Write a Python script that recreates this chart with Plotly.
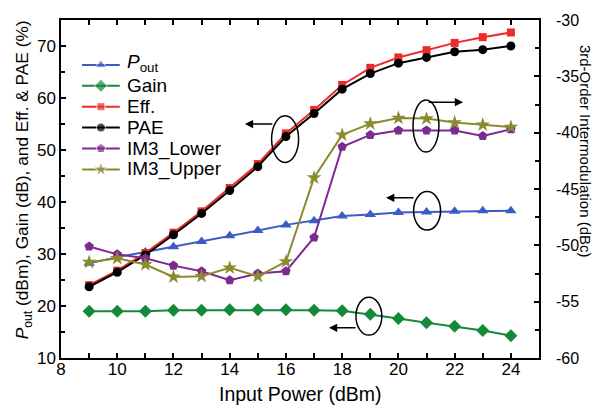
import plotly.graph_objects as go

# Input drive levels (dBm)
pin = [9, 10, 11, 12, 13, 14, 15, 16, 17, 18, 19, 20, 21, 22, 23, 24]

# Left-axis quantities
pout = [28.2, 29.4, 30.4, 31.4, 32.4, 33.5, 34.5, 35.6, 36.4, 37.3, 37.6, 38.0, 38.1, 38.2, 38.3, 38.3]
gain = [19.0, 19.0, 19.0, 19.2, 19.2, 19.3, 19.3, 19.3, 19.2, 19.1, 18.4, 17.6, 16.8, 16.1, 15.3, 14.3]
eff = [24.0, 26.8, 30.2, 34.1, 38.2, 42.7, 47.3, 53.2, 57.7, 62.5, 65.8, 67.8, 69.2, 70.6, 71.7, 72.6]
pae = [23.7, 26.5, 29.8, 33.7, 37.8, 42.2, 46.8, 52.6, 57.0, 61.7, 64.7, 66.7, 67.8, 68.9, 69.3, 70.0]

# Right-axis quantities (dBc)
im3_lower = [-50.1, -50.8, -51.15, -51.8, -52.3, -53.1, -52.5, -52.3, -49.3, -41.25, -40.2, -39.8, -39.8, -39.8, -40.3, -39.7]
im3_upper = [-51.5, -51.15, -51.7, -52.8, -52.75, -52.0, -52.75, -51.45, -44.0, -40.2, -39.2, -38.7, -38.75, -39.1, -39.3, -39.5]

x_ticks = [8, 10, 12, 14, 16, 18, 20, 22, 24]
y1_ticks = [10, 20, 30, 40, 50, 60, 70]
y2_ticks = [-60, -55, -50, -45, -40, -35, -30]
y2_labels = ["-60", "-55", "-50", "-45", "-40", "-35", "-30"]

FONT = "Liberation Sans, Arial, sans-serif"

# name, values, colour, marker symbol, marker size, y axis
series = [
    ("<i>P</i><sub>out</sub>", pout, "#3A5CC6", "triangle-up", 10, "y"),
    ("Gain", gain, "#138A3A", "diamond", 10, "y"),
    ("Eff.", eff, "#EE2A2A", "square", 8, "y"),
    ("PAE", pae, "#000000", "circle", 9, "y"),
    ("IM3_Lower", im3_lower, "#7C2A90", "pentagon", 10, "y2"),
    ("IM3_Upper", im3_upper, "#8B8A2F", "star", 11, "y2"),
]

fig = go.Figure()

for name, vals, col, sym, sz, ax in series:
    fig.add_trace(go.Scatter(
        x=pin, y=vals, name=name, mode="lines+markers",
        line=dict(color=col, width=2),
        marker=dict(symbol=sym, size=sz, color=col),
        yaxis=ax, showlegend=False,
    ))

# Hand-built legend on a hidden unit overlay (tighter row spacing than the built-in one)
LEG_X0, LEG_X1, LEG_TX = 0.044, 0.123, 0.134
LEG_TOP, LEG_STEP = 0.867, 0.0618
for i, (name, vals, col, sym, sz, ax) in enumerate(series):
    ry = LEG_TOP - i * LEG_STEP
    fig.add_trace(go.Scatter(
        x=[LEG_X0, (LEG_X0 + LEG_X1) / 2, LEG_X1], y=[ry, ry, ry],
        mode="lines+markers", line=dict(color=col, width=2),
        marker=dict(symbol=sym, size=[0, sz, 0], color=col),
        xaxis="x2", yaxis="y3", showlegend=False, hoverinfo="skip",
    ))
    fig.add_annotation(text=name, xref="paper", yref="paper", x=LEG_TX, y=ry,
                       xanchor="left", yanchor="middle", showarrow=False,
                       yshift=2 if i == 0 else 0,
                       font=dict(family=FONT, size=19, color="black"))

# Ellipses grouping curves with their axes
ellipses = [
    (15.49, 16.45, 47.6, 56.6),
    (20.52, 21.44, 49.6, 59.6),
    (20.54, 21.50, 34.6, 42.0),
    (18.49, 19.41, 14.4, 21.7),
]
for x0, x1, y0, y1 in ellipses:
    fig.add_shape(type="circle", xref="x", yref="y", x0=x0, x1=x1, y0=y0, y1=y1,
                  line=dict(color="black", width=1.5))

# Arrows pointing to the relevant axis: (tail_x, head_x, y)
arrows = [
    (15.57, 14.54, 55.0),
    (21.02, 22.30, 59.2),
    (20.59, 19.56, 40.8),
    (18.53, 17.53, 15.8),
]
for tx, hx, yy in arrows:
    fig.add_annotation(x=hx, y=yy, ax=tx, ay=yy, xref="x", yref="y", axref="x", ayref="y",
                       text="", showarrow=True, arrowhead=2, arrowsize=1.1, arrowwidth=1.5,
                       arrowcolor="black")

# Axis titles
fig.add_annotation(text="Input Power (dBm)", xref="paper", yref="paper",
                   x=0.5, y=-0.107, xanchor="center", yanchor="middle", showarrow=False,
                   font=dict(family=FONT, size=19.5, color="black"))
fig.add_annotation(text="<i>P</i><sub>out</sub> (dBm), Gain (dB), and Eff. &amp; PAE (%)",
                   xref="paper", yref="paper", x=-0.105, y=0.527, showarrow=False,
                   textangle=-90, font=dict(family=FONT, size=17.3, color="black"))
fig.add_annotation(text="3rd-Order Intermodulation (dBc)", xref="paper", yref="paper",
                   x=1.118, y=0.61, showarrow=False, textangle=90,
                   font=dict(family=FONT, size=15, color="black"))

axis_common = dict(showline=True, linecolor="black", linewidth=1.5, ticks="inside",
                   tickcolor="black", tickwidth=1.5, ticklen=5, showgrid=False, zeroline=False,
                   automargin=False)
tick_font = dict(family=FONT, size=17, color="black")

fig.update_layout(
    width=597, height=405,
    margin=dict(l=61, r=58, t=20, b=47),
    paper_bgcolor="white", plot_bgcolor="white",
    font=dict(family=FONT, size=16, color="black"),
    showlegend=False,
    xaxis=dict(range=[8, 25], tickvals=x_ticks, mirror="allticks", tickfont=tick_font,
               ticklabelstandoff=-5,
               minor=dict(dtick=1, tick0=8, ticks="inside", ticklen=4, tickcolor="black", tickwidth=1.5),
               **axis_common),
    yaxis=dict(range=[10, 75], tickvals=y1_ticks, tickfont=tick_font,
               minor=dict(dtick=5, tick0=10, ticks="inside", ticklen=4, tickcolor="black", tickwidth=1.5),
               **axis_common),
    yaxis2=dict(range=[-60, -30], tickvals=y2_ticks, ticktext=y2_labels, overlaying="y", side="right",
                ticklabelstandoff=12, tickfont=dict(family=FONT, size=16, color="black"),
                minor=dict(dtick=2.5, tick0=-60, ticks="inside", ticklen=4, tickcolor="black", tickwidth=1.5),
                **axis_common),
    xaxis2=dict(overlaying="x", range=[0, 1], visible=False, anchor="y3", automargin=False),
    yaxis3=dict(overlaying="y", range=[0, 1], visible=False, anchor="x2", automargin=False),
)

fig.write_html("out.html")
